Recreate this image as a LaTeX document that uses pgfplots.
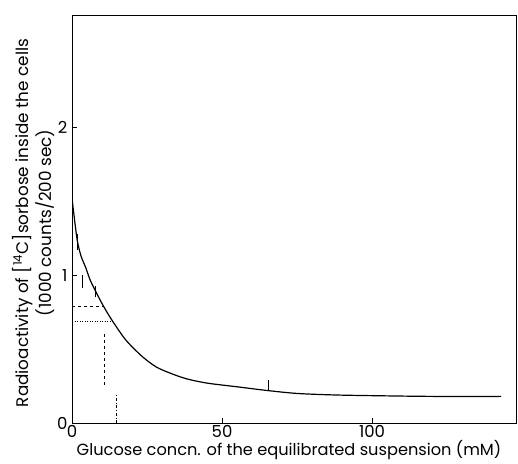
\documentclass[border=0pt]{standalone}
\usepackage{pgfplots}
\pgfplotsset{compat=1.18}
\usepackage{fontspec}
\setmainfont{Poppins}
\begin{document}
\begin{tikzpicture}
\begin{axis}[
  scale only axis,
  width=444pt, height=408pt,
  xmin=0, xmax=148, ymin=0, ymax=2.76,
  xtick={0,50,100}, ytick={0,1,2},
  tick pos=left, tick align=inside,
  major tick length=5pt,
  axis line style={line width=0.8pt},
  tick style={line width=0.7pt, black},
  /pgf/number format/assume math mode=true,
  ticklabel style={font=\fontsize{16.5}{19}\selectfont},
  xticklabel style={yshift=1pt},
  yticklabel style={xshift=-1pt},
  xlabel={Glucose concn. of the equilibrated suspension (mM)},
  xlabel style={font=\fontsize{16.2}{19}\selectfont, yshift=4pt, xshift=-5pt},
  ylabel={Radioactivity of {\LARGE[}\textsuperscript{14}C{\LARGE]}sorbose inside the cells\\(1000 counts/200 sec)},
  ylabel style={font=\fontsize{16.8}{23}\selectfont, align=center, yshift=-4pt, xshift=-4pt},
]
\addplot[black, line width=1.2pt, smooth, tension=0.5] coordinates {
(0,1.52) (1,1.35) (1.8,1.23) (3,1.13) (4.6,1.05) (6,0.97) (7.9,0.89)
(10.5,0.79) (13.5,0.69) (18,0.56) (23.4,0.45) (28,0.38) (32.4,0.34)
(38,0.30) (45,0.27) (55,0.245) (65,0.22) (75,0.20) (87,0.19)
(100,0.185) (120,0.18) (143,0.18)
};
\addplot[black, line width=0.5pt, unbounded coords=jump] coordinates {
(1.8,1.17) (1.8,1.28) (nan,nan)
(3.5,0.91) (3.5,1.00) (nan,nan)
(7.6,0.85) (7.6,0.93) (nan,nan)
(65.5,0.22) (65.5,0.29)
};
\addplot[black, line width=0.5pt, dashed] coordinates {(0,0.79) (10.5,0.79)};
\addplot[black, line width=0.5pt, dotted] coordinates {(0,0.69) (13.6,0.69)};
\addplot[black, line width=0.5pt, dashed] coordinates {(10.7,0.26) (10.7,0.61)};
\addplot[black, line width=0.5pt, dash dot] coordinates {(14.6,0) (14.6,0.19)};
\coordinate (SW) at (rel axis cs:0,0);
\coordinate (NE) at (rel axis cs:1,1);
\end{axis}
\pgfresetboundingbox
\path[use as bounding box] ([shift={(-72pt,-40pt)}]SW) rectangle ([shift={(2pt,15pt)}]NE);
\end{tikzpicture}
\end{document}
